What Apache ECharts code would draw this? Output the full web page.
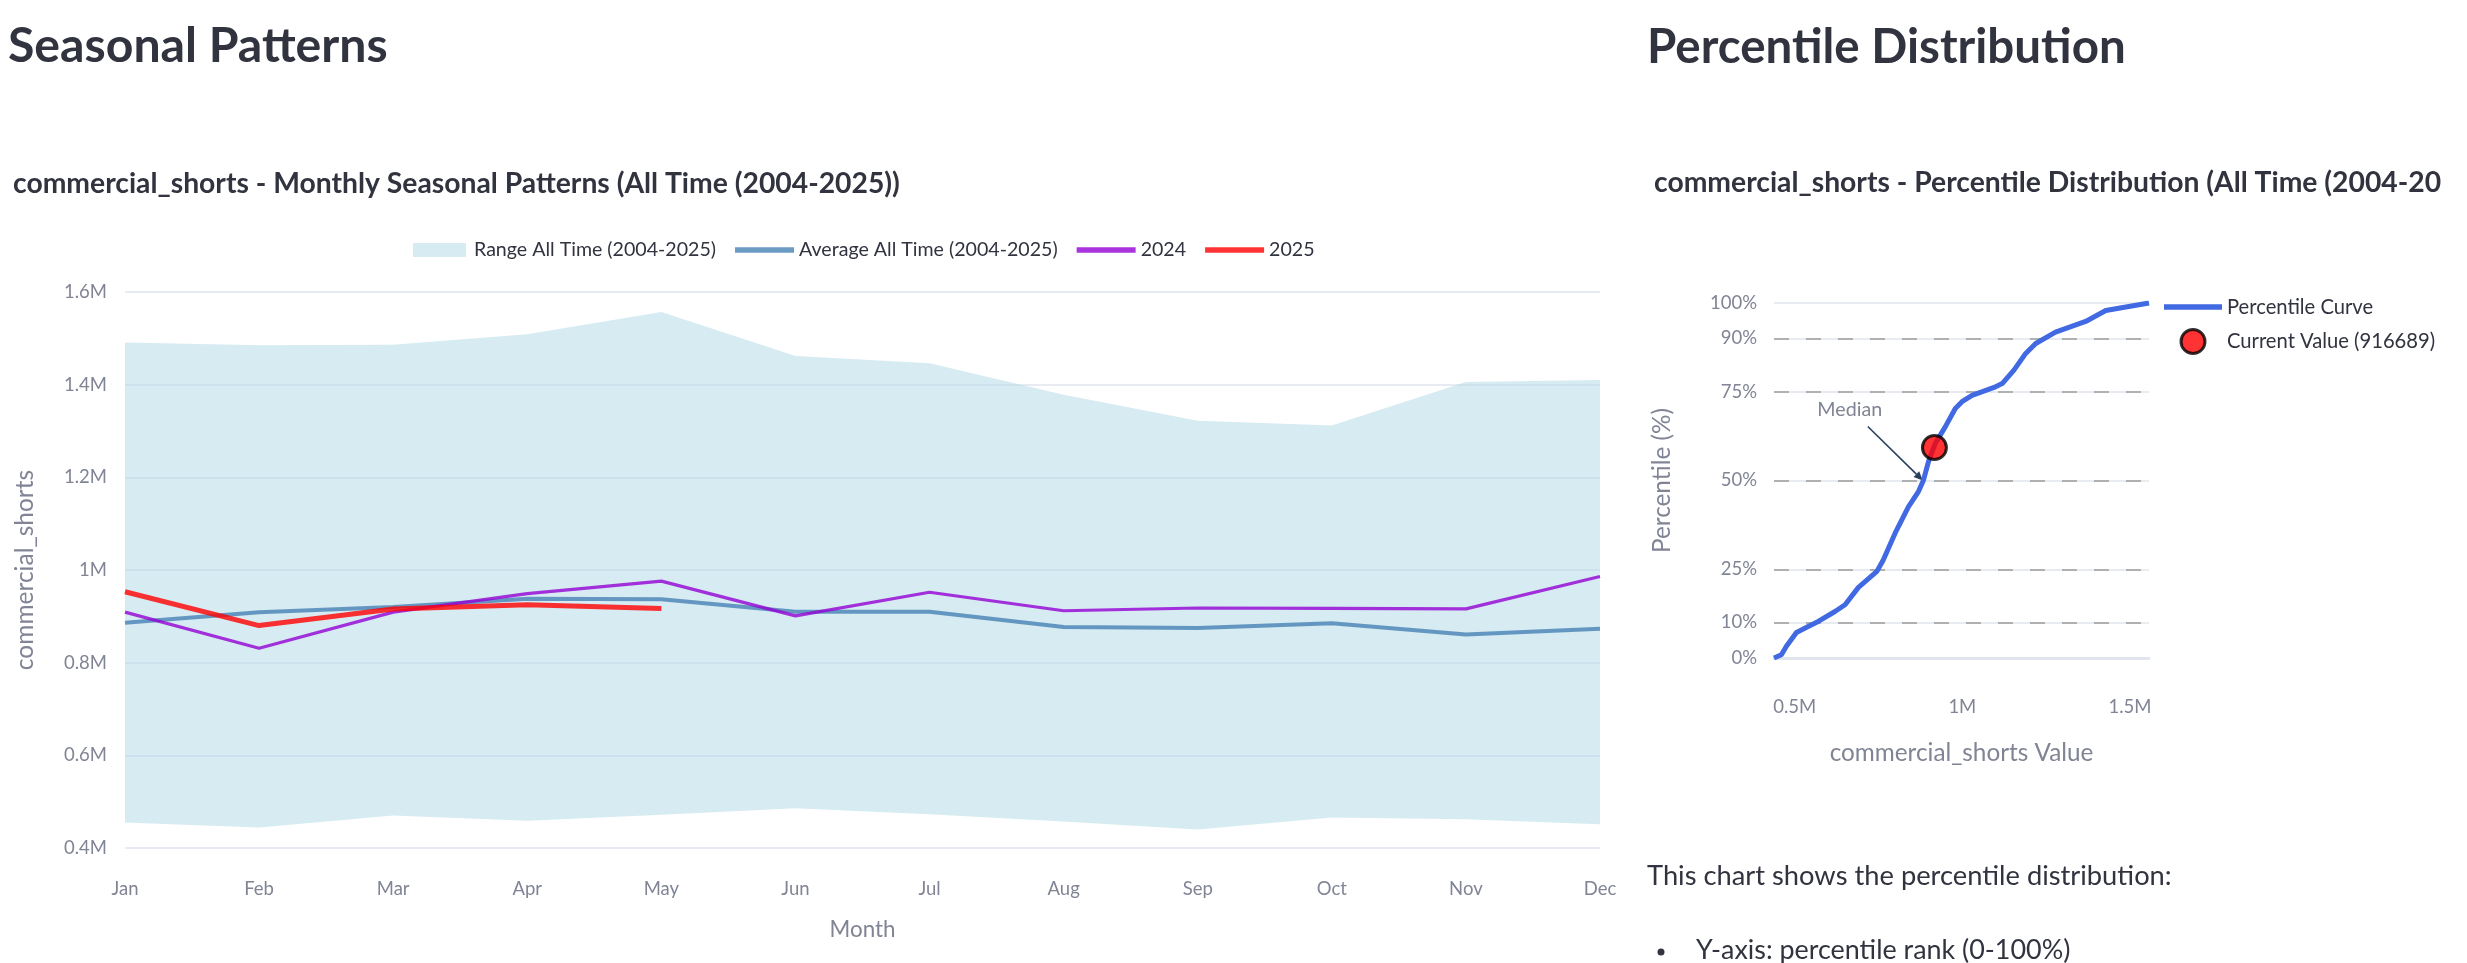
<!DOCTYPE html>
<html>
<head>
<meta charset="utf-8">
<script src="https://cdn.jsdelivr.net/npm/echarts@6/dist/echarts.min.js"></script>
<style>
  html, body { margin: 0; padding: 0; background: #ffffff; }
  #main { width: 2467px; height: 963px; }
</style>
</head>
<body>
<div id="main"></div>
<script>
// seasonal chart data
let months = ['Jan', 'Feb', 'Mar', 'Apr', 'May', 'Jun', 'Jul', 'Aug', 'Sep', 'Oct', 'Nov', 'Dec'];
let rangeLow = [455000, 444000, 470000, 459000, 472000, 486000, 473000, 457000, 440000, 466000, 462000, 451000];
let rangeHigh = [1491000, 1485000, 1486000, 1509000, 1557000, 1462000, 1446000, 1378000, 1322000, 1312000, 1406000, 1410000];
let averageAll = [886000, 909000, 920000, 938000, 937000, 910000, 910000, 877000, 875000, 885000, 861000, 873000];
let year2024 = [909000, 831000, 909000, 949000, 976000, 901000, 952000, 912000, 918000, 917000, 916000, 986000];
let year2025 = [953000, 880000, 916000, 925000, 916689];

// percentile chart data
let curveValues = [438000, 460000, 475000, 505000, 540000, 570000, 620000, 650000, 690000, 745000, 764000, 799000, 839000, 869000, 884000, 899000, 919000, 949000, 979000, 999000, 1029000, 1099000, 1119000, 1154000, 1189000, 1219000, 1278000, 1368000, 1428000, 1557000];
let curveRanks = [0, 0.9, 3.3, 7.2, 8.9, 10.3, 13.1, 15.0, 19.9, 24.4, 27.6, 35.1, 42.6, 46.9, 50.1, 55.3, 60.4, 65.1, 70.3, 72.2, 74.0, 76.4, 77.3, 81.1, 85.8, 88.6, 91.8, 94.8, 97.9, 100];
let percentileTicks = [0, 10, 25, 50, 75, 90, 100];
let dashedLevels = [10, 25, 50, 75, 90];
let valueTicks = [500000, 1000000, 1500000];
let currentValue = 916689;
let currentRank = 59.3;
let medianValue = 882000;

let rangeSpan = rangeHigh.map(function (v, i) { return v - rangeLow[i]; });

let fontName = 'Lato, "Open Sans", sans-serif';
let axisGray = '#808495';
let textDark = '#31333f';
let gridColor = '#e1e6ee';

// the page used Source Sans; size Lato so the text widths come out the same
let measureCtx = document.createElement('canvas').getContext('2d');
function fitSize(text, weight, width) {
    measureCtx.font = weight + ' 100px ' + fontName;
    return Math.round(1000 * width / measureCtx.measureText(text).width) / 10;
}

let headSize = fitSize('Seasonal Patterns', 'bold', 380);
let head2Size = fitSize('Percentile Distribution', 'bold', 479);
let titleSize = fitSize('commercial_shorts - Monthly Seasonal Patterns (All Time (2004-2025))', 'bold', 887);
let legendSize = fitSize('Range All Time (2004-2025)', 'normal', 242);
let legend2Size = fitSize('Percentile Curve', 'normal', 146);
let tickSize = fitSize('1.6M', 'normal', 43);
let yNameSize = fitSize('commercial_shorts', 'normal', 200);
let xNameSize = fitSize('Month', 'normal', 66);
let x2NameSize = fitSize('commercial_shorts Value', 'normal', 264);
let y2NameSize = fitSize('Percentile (%)', 'normal', 145);
let medianSize = fitSize('Median', 'normal', 65);
let bodySize = fitSize('This chart shows the percentile distribution:', 'normal', 525);
let bulletSize = fitSize('Y-axis: percentile rank (0-100%)', 'normal', 374);

function fmtM(v) {
    return (v / 1e6) + 'M';
}

let chart = echarts.init(document.getElementById('main'), null, { renderer: 'canvas' });

let option = {
    animation: false,
    backgroundColor: '#ffffff',
    textStyle: { fontFamily: fontName },
    title: [
        {
            text: 'commercial_shorts - Monthly Seasonal Patterns (All Time (2004-2025))',
            left: 8, top: 184 - 5 - titleSize / 2,
            textStyle: { fontSize: titleSize, fontWeight: 'bold', color: textDark }
        },
        {
            text: 'commercial_shorts - Percentile Distribution (All Time (2004-2025))',
            left: 1649, top: 183 - 5 - titleSize / 2,
            textStyle: { fontSize: titleSize, fontWeight: 'bold', color: textDark, width: 789, overflow: 'truncate', ellipsis: '' }
        }
    ],
    legend: [
        {
            left: 408, top: 235, itemWidth: 59, itemHeight: 14, itemGap: 19,
            selectedMode: false,
            textStyle: { fontSize: legendSize, color: textDark },
            data: [
                { name: 'Range All Time (2004-2025)', icon: 'path://M0,0H53V14H0Z', itemStyle: { color: 'rgba(173,216,230,0.5)', borderWidth: 0 } },
                { name: 'Average All Time (2004-2025)', icon: 'path://M0,0H53V5H0Z', itemStyle: { color: 'rgba(70,130,180,0.8)', borderWidth: 0 } },
                { name: '2024', icon: 'path://M0,0H53V5H0Z', itemStyle: { color: 'rgba(148,0,211,0.8)', borderWidth: 0 } },
                { name: '2025', icon: 'path://M0,0H53V5H0Z', itemStyle: { color: 'rgba(255,0,0,0.8)', borderWidth: 0 } }
            ]
        },
        {
            left: 2159, top: 292, orient: 'vertical', itemWidth: 58, itemHeight: 24, itemGap: 11,
            selectedMode: false,
            textStyle: { fontSize: legend2Size, color: textDark },
            data: [
                { name: 'Percentile Curve', icon: 'path://M0,0H52V5H0Z', itemStyle: { color: '#4169e1', borderWidth: 0 } },
                { name: 'Current Value (916689)', icon: 'circle', itemStyle: { color: '#ff0000', borderColor: '#000000', borderWidth: 3 } }
            ]
        }
    ],
    grid: [
        { left: 125, right: 867, top: 292, bottom: 115 },
        { left: 1774, right: 318, top: 303, bottom: 305 }
    ],
    xAxis: [
        {
            gridIndex: 0, type: 'category', data: months, boundaryGap: false,
            axisLine: { show: false }, axisTick: { show: false }, splitLine: { show: false },
            axisLabel: { color: axisGray, fontSize: tickSize, margin: 32 },
            name: 'Month', nameLocation: 'middle', nameGap: 82 - xNameSize / 2,
            nameTextStyle: { color: axisGray, fontSize: xNameSize }
        },
        {
            gridIndex: 1, type: 'value', min: 'dataMin', max: 'dataMax',
            axisLine: { show: true, lineStyle: { color: gridColor, width: 3 } },
            axisTick: { show: false }, splitLine: { show: false },
            axisLabel: { customValues: valueTicks, formatter: fmtM, color: axisGray, fontSize: tickSize, margin: 40 },
            name: 'commercial_shorts Value', nameLocation: 'middle', nameGap: 95 - x2NameSize / 2,
            nameTextStyle: { color: axisGray, fontSize: x2NameSize }
        }
    ],
    yAxis: [
        {
            gridIndex: 0, type: 'value', min: 400000, max: 1600000, interval: 200000,
            axisLine: { show: false }, axisTick: { show: false },
            splitLine: { lineStyle: { color: gridColor, width: 1.5 } },
            axisLabel: { formatter: fmtM, color: axisGray, fontSize: tickSize, margin: 18 },
            name: 'commercial_shorts', nameLocation: 'middle', nameRotate: 90, nameGap: 100 - yNameSize / 2,
            nameTextStyle: { color: axisGray, fontSize: yNameSize }
        },
        {
            gridIndex: 1, type: 'value', min: 0, max: 100,
            axisLine: { show: false },
            axisTick: { show: false, customValues: percentileTicks },
            splitLine: { lineStyle: { color: gridColor, width: 1.5 } },
            axisLabel: { customValues: percentileTicks, formatter: '{value}%', color: axisGray, fontSize: tickSize, margin: 17 },
            name: 'Percentile (%)', nameLocation: 'middle', nameRotate: 90, nameGap: 112 - y2NameSize / 2,
            nameTextStyle: { color: axisGray, fontSize: y2NameSize }
        }
    ],
    series: [
        {
            name: 'rangeBase', type: 'line', xAxisIndex: 0, yAxisIndex: 0,
            data: rangeLow, stack: 'range', symbol: 'none', silent: true,
            lineStyle: { width: 0, opacity: 0 }
        },
        {
            name: 'Range All Time (2004-2025)', type: 'line', xAxisIndex: 0, yAxisIndex: 0,
            data: rangeSpan, stack: 'range', symbol: 'none', silent: true,
            lineStyle: { width: 0, opacity: 0 },
            itemStyle: { color: 'rgba(173,216,230,0.5)' },
            areaStyle: { color: 'rgba(173,216,230,0.5)', opacity: 1 }
        },
        {
            name: 'Average All Time (2004-2025)', type: 'line', xAxisIndex: 0, yAxisIndex: 0,
            data: averageAll, symbol: 'none',
            itemStyle: { color: 'rgba(70,130,180,0.8)' },
            lineStyle: { color: 'rgba(70,130,180,0.8)', width: 4 }
        },
        {
            name: '2024', type: 'line', xAxisIndex: 0, yAxisIndex: 0,
            data: year2024, symbol: 'none',
            itemStyle: { color: 'rgba(148,0,211,0.8)' },
            lineStyle: { color: 'rgba(148,0,211,0.8)', width: 3.2 }
        },
        {
            name: '2025', type: 'line', xAxisIndex: 0, yAxisIndex: 0,
            data: year2025, symbol: 'none',
            itemStyle: { color: 'rgba(255,0,0,0.8)' },
            lineStyle: { color: 'rgba(255,0,0,0.8)', width: 5 }
        },
        {
            name: 'Percentile Curve', type: 'line', xAxisIndex: 1, yAxisIndex: 1,
            data: curveValues.map(function (v, i) { return [v, curveRanks[i]]; }),
            symbol: 'none',
            itemStyle: { color: '#4169e1' },
            lineStyle: { color: '#4169e1', width: 5 },
            markLine: {
                silent: true, symbol: 'none', z: 1,
                label: { show: false },
                lineStyle: { color: 'rgba(128,128,128,0.75)', width: 1.6, type: [15, 17] },
                data: dashedLevels.map(function (v) { return { yAxis: v }; })
            }
        },
        {
            name: 'Current Value (916689)', type: 'scatter', xAxisIndex: 1, yAxisIndex: 1,
            data: [[currentValue, currentRank]], symbolSize: 24, z: 5,
            itemStyle: { color: '#ff0000', borderColor: '#000000', borderWidth: 3 }
        }
    ]
};

chart.setOption(option);

// headings, body text and the median annotation
let tip = chart.convertToPixel({ gridIndex: 1 }, [medianValue, 50]);
let tail = [tip[0] - 55, tip[1] - 54];
let dx = tip[0] - tail[0], dy = tip[1] - tail[1];
let len = Math.sqrt(dx * dx + dy * dy);
let ux = dx / len, uy = dy / len;
let base = [tip[0] - ux * 9, tip[1] - uy * 9];
let arrowColor = '#2a3f5f';

chart.setOption({
    graphic: {
        elements: [
            { type: 'text', style: { x: 8, y: 46, text: 'Seasonal Patterns', fill: textDark, fontFamily: fontName, fontSize: headSize, fontWeight: 'bold', verticalAlign: 'middle' } },
            { type: 'text', style: { x: 1647, y: 48, text: 'Percentile Distribution', fill: textDark, fontFamily: fontName, fontSize: head2Size, fontWeight: 'bold', verticalAlign: 'middle' } },
            { type: 'text', style: { x: 1647, y: 876, text: 'This chart shows the percentile distribution:', fill: textDark, fontFamily: fontName, fontSize: bodySize, verticalAlign: 'middle' } },
            { type: 'circle', shape: { cx: 1661, cy: 952, r: 3.5 }, style: { fill: textDark } },
            { type: 'text', style: { x: 1696, y: 950, text: 'Y-axis: percentile rank (0-100%)', fill: textDark, fontFamily: fontName, fontSize: bulletSize, verticalAlign: 'middle' } },
            { type: 'line', shape: { x1: tail[0], y1: tail[1], x2: base[0], y2: base[1] }, style: { stroke: arrowColor, lineWidth: 1.6 } },
            { type: 'polygon', shape: { points: [tip, [base[0] + uy * 4, base[1] - ux * 4], [base[0] - uy * 4, base[1] + ux * 4]] }, style: { fill: arrowColor } },
            { type: 'text', style: { x: tip[0] - 73, y: tip[1] - 71, text: 'Median', fill: axisGray, fontFamily: fontName, fontSize: medianSize, align: 'center', verticalAlign: 'middle' } }
        ]
    }
});
</script>
</body>
</html>
